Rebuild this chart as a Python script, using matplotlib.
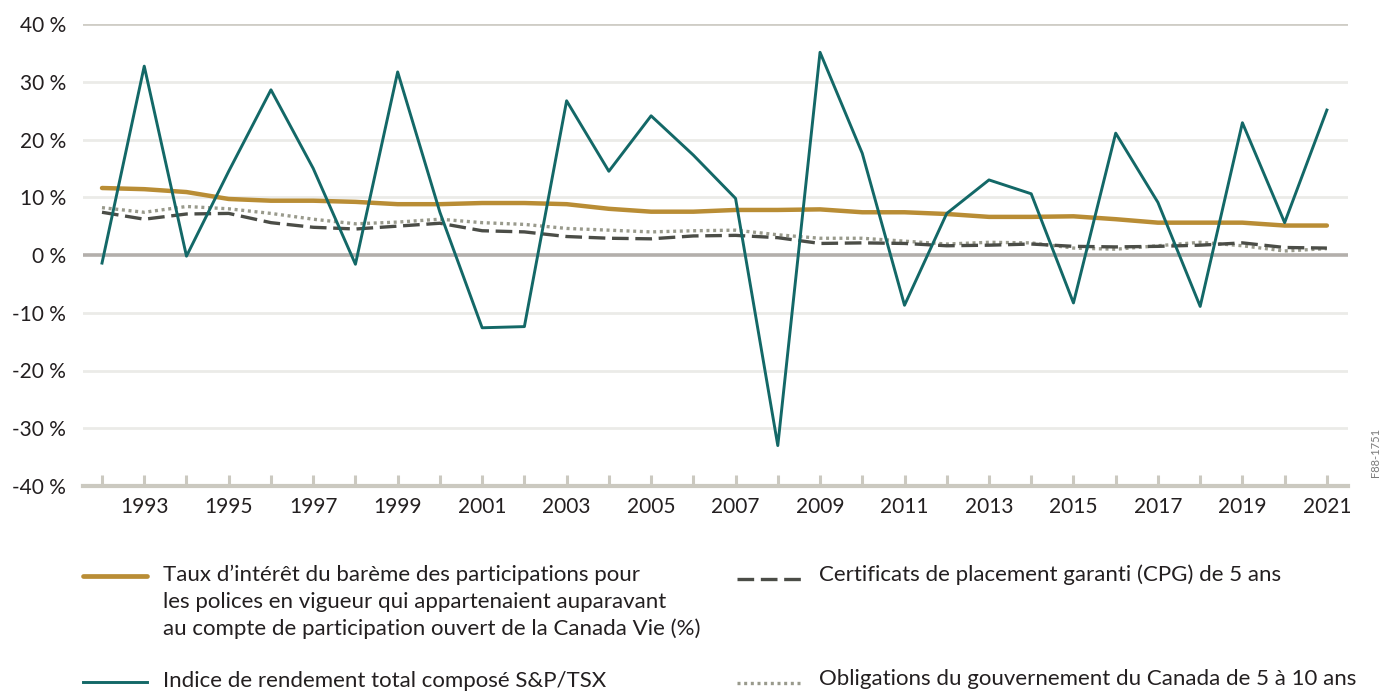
import matplotlib
matplotlib.use("Agg")
import matplotlib.pyplot as plt
from matplotlib.lines import Line2D

plt.rcParams['font.family'] = ['Lato', 'DejaVu Sans']

years = list(range(1992, 2022))
tsx = [-1.4, 32.7, -0.2, 14.5, 28.6, 15.0, -1.6, 31.7, 7.4, -12.6,
       -12.4, 26.7, 14.5, 24.1, 17.3, 9.8, -33.0, 35.1, 17.6, -8.7,
       7.2, 13.0, 10.6, -8.3, 21.1, 9.1, -8.9, 22.9, 5.6, 25.1]
participating = [11.6, 11.4, 10.9, 9.7, 9.4, 9.4, 9.2, 8.8, 8.8, 9.0,
                 9.0, 8.8, 8.0, 7.5, 7.5, 7.8, 7.8, 7.9, 7.4, 7.4,
                 7.1, 6.6, 6.6, 6.7, 6.2, 5.6, 5.6, 5.6, 5.1, 5.1]
gic = [7.4, 6.2, 7.1, 7.2, 5.6, 4.8, 4.5, 5.0, 5.5, 4.2,
       4.0, 3.2, 2.9, 2.8, 3.3, 3.4, 3.0, 2.0, 2.1, 2.0,
       1.6, 1.7, 1.9, 1.5, 1.4, 1.5, 1.7, 2.1, 1.3, 1.2]
bonds = [8.2, 7.4, 8.4, 8.0, 7.2, 6.2, 5.4, 5.7, 6.2, 5.6,
         5.3, 4.6, 4.3, 4.0, 4.2, 4.3, 3.5, 2.9, 2.9, 2.4,
         1.9, 2.2, 2.1, 1.2, 1.0, 1.6, 2.2, 1.6, 0.7, 1.1]

yticks = [-40, -30, -20, -10, 0, 10, 20, 30, 40]
ytick_labels = ["-40 %", "-30 %", "-20 %", "-10 %", "0 %", "10 %", "20 %", "30 %", "40 %"]
xtick_labels = list(range(1993, 2022, 2))

legend_gold_lines = [
    "Taux d\u2019intérêt du barème des participations pour",
    "les polices en vigueur qui appartenaient auparavant",
    "au compte de participation ouvert de la Canada Vie (%)",
]
legend_tsx = "Indice de rendement total composé S&P/TSX"
legend_gic = "Certificats de placement garanti (CPG) de 5 ans"
legend_bonds = "Obligations du gouvernement du Canada de 5 à 10 ans"

GOLD = "#b98d35"
TEAL = "#136867"
DASH = "#4b4d47"
DOT = "#999a8c"
TEXT = "#231f20"
FS = 16

fig = plt.figure(figsize=(13.84, 6.92), dpi=100)
ax = fig.add_axes([83/1384, 1-486/692, (1348-83)/1384, (486-24)/692])

ax.set_xlim(1991.55, 2021.5)
ax.set_ylim(-40, 40)

for v in yticks:
    if v == -40:
        continue
    if v == 0:
        c, lw = "#b3afab", 2.6
    elif v == 40:
        c, lw = "#cfcdc6", 2.0
    else:
        c, lw = "#ebebe8", 2.0
    ax.axhline(v, color=c, lw=lw, zorder=1)

dash_style = (0, (5, 2))
dot_style = (0, (0.9, 1.1))
ax.plot(years, bonds, color=DOT, lw=2.4, linestyle=dot_style, zorder=3)
ax.plot(years, gic, color=DASH, lw=2.4, linestyle=dash_style, zorder=4)
ax.plot(years, participating, color=GOLD, lw=3.2, zorder=5, solid_capstyle='round')
ax.plot(years, tsx, color=TEAL, lw=2.1, zorder=6)

for s in ["top", "right", "left"]:
    ax.spines[s].set_visible(False)
ax.spines["bottom"].set_color("#cbc9c0")
ax.spines["bottom"].set_linewidth(3)

ax.set_yticks(yticks)
ax.set_yticklabels(ytick_labels, fontsize=15, color=TEXT)
ax.tick_params(axis='y', length=0, pad=12)

ax.set_xticks(years)
ax.set_xticklabels([str(y) if y in xtick_labels else "" for y in years], fontsize=15, color=TEXT)
ax.tick_params(axis='x', direction='in', length=8, width=2.2, color="#cbc9c0", pad=8)

# legend
def leg_line(x0, x1, y, **kw):
    fig.add_artist(Line2D([x0/1384, x1/1384], [1-y/692, 1-y/692], transform=fig.transFigure, **kw))

def leg_text(x, y, s):
    fig.text(x/1384, 1-y/692, s, fontsize=FS, color=TEXT, va='center', ha='left')

leg_line(83, 147, 576, color=GOLD, lw=3.4, solid_capstyle='round')
for i, line in enumerate(legend_gold_lines):
    leg_text(163, 575 + 27*i, line)
leg_line(83, 147, 682, color=TEAL, lw=2.1)
leg_text(163, 681, legend_tsx)
leg_line(737, 803, 579, color=DASH, lw=2.4, linestyle=dash_style)
leg_text(819, 575, legend_gic)
leg_line(737, 803, 683, color=DOT, lw=2.4, linestyle=dot_style)
leg_text(819, 679, legend_bonds)

fig.text(1376/1384, 1-452/692, "F88-1751", rotation=90, fontsize=8, color="#7a7a7a", va='center', ha='center')

fig.savefig("out.png", dpi=100)
